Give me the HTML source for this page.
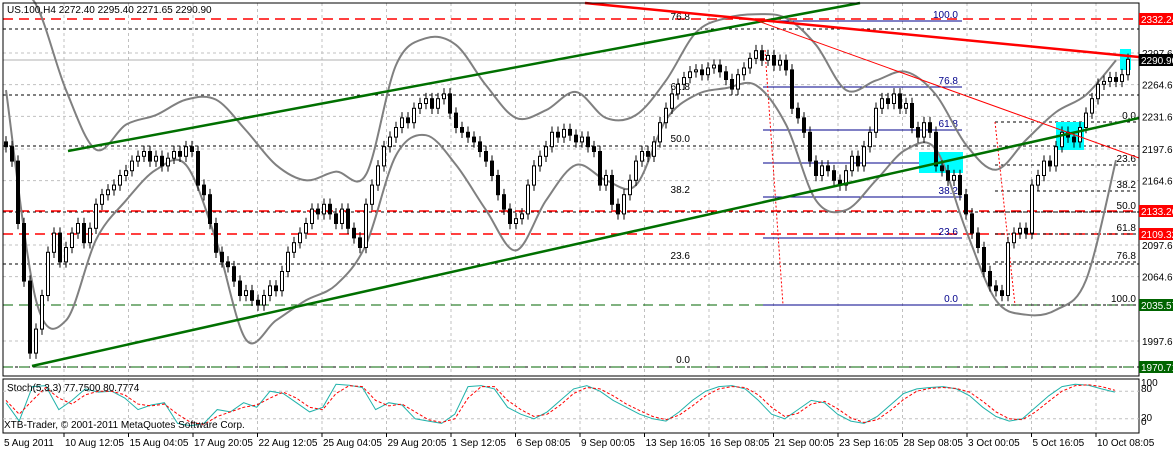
<!DOCTYPE html>
<html><head><meta charset="utf-8"><style>
body{margin:0;background:#fff;width:1173px;height:450px;overflow:hidden}
svg{display:block;font-family:"Liberation Sans",sans-serif}
</style></head><body>
<svg id="c" width="1173" height="450">
<rect x="0" y="0" width="1173" height="450" fill="#fff"/>
<g id="grid"></g>
<g id="levels"></g>
<g id="bands"></g>
<g id="candles"></g>
<g id="overlay"></g>
<g id="stoch"></g>
<g id="axes"></g>
</svg>
<script>
const closes=[2200,2185,2120,2060,1985,2010,2045,2090,2110,2080,2095,2110,2120,2100,2115,2140,2150,2155,2160,2170,2175,2185,2190,2195,2185,2190,2180,2188,2195,2190,2200,2195,2160,2150,2120,2090,2080,2075,2060,2045,2050,2040,2035,2045,2055,2050,2070,2090,2100,2110,2120,2135,2130,2140,2130,2120,2135,2115,2105,2095,2140,2160,2180,2200,2210,2220,2230,2225,2240,2245,2250,2240,2250,2255,2235,2220,2215,2210,2205,2195,2185,2170,2150,2135,2120,2125,2130,2160,2180,2190,2200,2215,2210,2218,2212,2205,2210,2200,2195,2160,2170,2140,2130,2150,2165,2185,2195,2190,2205,2225,2240,2255,2265,2272,2278,2280,2275,2282,2285,2278,2270,2260,2275,2282,2292,2300,2290,2295,2285,2290,2280,2240,2230,2215,2185,2170,2180,2175,2165,2160,2175,2190,2180,2200,2215,2240,2250,2245,2255,2240,2245,2220,2210,2225,2215,2180,2175,2165,2170,2150,2130,2110,2095,2070,2055,2050,2045,2100,2110,2115,2110,2160,2170,2185,2180,2200,2215,2210,2205,2220,2235,2250,2265,2268,2272,2268,2275,2291];
const upperBand=[2374,2348,2259,2197,2223,2233,2249,2249,2217,2181,2165,2174,2171,2285,2313,2306,2264,2230,2238,2257,2230,2233,2269,2319,2334,2338,2334,2306,2259,2269,2278,2254,2202,2176,2207,2236,2254,2290];
const lowerBand=[2259,2040,2019,2103,2144,2176,2181,2103,1999,2019,2040,2056,2098,2191,2212,2181,2134,2092,2144,2181,2165,2160,2228,2254,2261,2264,2223,2144,2134,2165,2197,2197,2113,2040,2025,2030,2061,2186];
const stochK=[55,15,90,92,40,60,85,78,80,65,40,50,55,10,5,10,40,35,55,45,80,75,55,35,45,95,93,88,40,55,50,20,15,10,30,90,92,85,45,30,20,35,60,85,92,80,60,45,30,20,15,35,60,80,90,92,85,60,30,20,40,60,55,30,15,10,25,50,75,85,88,90,85,70,45,25,15,20,45,70,90,95,93,85,78];
const stochD=[60,30,60,88,65,52,72,80,80,72,52,48,52,30,12,8,25,35,45,50,65,78,65,45,40,75,92,90,60,48,52,35,18,12,20,65,90,90,60,40,25,30,50,75,88,85,70,52,38,25,18,28,48,70,85,90,88,72,45,25,32,52,58,42,22,12,18,38,62,80,86,88,86,78,58,35,20,18,35,58,80,92,94,90,82];
const dateLabels=["10 Aug 12:05","15 Aug 04:05","17 Aug 20:05","22 Aug 12:05","25 Aug 04:05","29 Aug 20:05","1 Sep 12:05","6 Sep 08:05","9 Sep 00:05","13 Sep 16:05","16 Sep 08:05","21 Sep 00:05","23 Sep 16:05","28 Sep 08:05","3 Oct 00:05","5 Oct 16:05","10 Oct 08:05"];
const priceTicks=[2297.6,2264.6,2231.6,2197.6,2164.6,2097.6,2064.6,1997.6];

const NS="http://www.w3.org/2000/svg";
const X0=6,DX=6,PL=3,PR=1139,PT=3,PB=376;
const yP=p=>53+(2297.6-p)*0.96;
const xI=i=>X0+i*DX;
const yS=v=>428-v*0.46;
function mk(t,a,parent){const e=document.createElementNS(NS,t);for(const k in a)e.setAttribute(k,a[k]);document.getElementById(parent).appendChild(e);return e;}
function smooth(pts){let d='M'+pts[0][0]+','+pts[0][1];
 for(let i=0;i<pts.length-1;i++){const p0=pts[i-1]||pts[i],p1=pts[i],p2=pts[i+1],p3=pts[i+2]||p2;
  const c1x=p1[0]+(p2[0]-p0[0])/6,c1y=p1[1]+(p2[1]-p0[1])/6,c2x=p2[0]-(p3[0]-p1[0])/6,c2y=p2[1]-(p3[1]-p1[1])/6;
  d+=` C${c1x},${c1y} ${c2x},${c2y} ${p2[0]},${p2[1]}`;}return d;}

for(let k=0;k<18;k++){const gx=64+k*64.5;if(gx>PR)break;
 const g=mk('line',{x1:gx,y1:PT,x2:gx,y2:PB,stroke:'#c0c0c0','stroke-dasharray':'3,3'},'grid');
 
 const g2=mk('line',{x1:gx,y1:379,x2:gx,y2:433,stroke:'#c0c0c0','stroke-dasharray':'3,3'},'grid');
 }
for(const p of priceTicks){const g=mk('line',{x1:PL,y1:yP(p),x2:PR,y2:yP(p),stroke:'#c0c0c0','stroke-dasharray':'3,3'},'grid');
 }

const L=(x1,y1,x2,y2,c,w,d,name)=>{const e=mk('line',{x1,y1,x2,y2,stroke:c,'stroke-width':w,'stroke-dasharray':d||'none'},'levels');return e;};
L(PL,29,PR,29,'#000',1,'3,3','fib-level-76');L(PL,95,PR,95,'#000',1,'3,3','fib-level-61');L(PL,146,PR,146,'#000',1,'3,3','fib-level-50');
L(PL,212,PR,212,'#000',1,'3,3','fib-level-38');L(PL,264,PR,264,'#000',1,'3,3','fib-level-23');L(PL,367,PR,367,'#000',1,'3,3','fib-level-0');
L(PL,19,PR,19,'#f00',1.5,'10,6','resistance-2332');L(PL,211,PR,211,'#f00',1.5,'10,6','level-2133');L(PL,234,PR,234,'#f00',1.5,'10,6','level-2109');
L(PL,305,PR,305,'#006400',1,'10,6','level-2035');L(PL,367,PR,367,'#006400',1,'10,6','level-1970');
L(PL,60,PR,60,'#b0b0b0',1,'','bid-line');
[[21,'100.0'],[87,'76.8'],[130,'61.8'],[163,'50.0'],[197,'38.2'],[238,'23.6'],[305,'0.0']].forEach(([y,t])=>{
 L(763,y,962,y,'#00008b',1,'','fib2-line');
 const e=mk('text',{x:958,y:y-3,'font-size':10,fill:'#00008b','text-anchor':'end'},'levels');e.textContent=t;
 });
[[122,'0.0'],[165,'23.6'],[191,'38.2'],[212,'50.0'],[234,'61.8'],[262,'76.8'],[305,'100.0']].forEach(([y,t])=>{
 L(995,y,PR,y,'#000',1,'3,3','fib3-line');
 const e=mk('text',{x:1136,y:y-3,'font-size':10,fill:'#000','text-anchor':'end'},'levels');e.textContent=t;
 });
[[22,'76.8'],[92,'61.8'],[144,'50.0'],[195,'38.2'],[261,'23.6'],[365,'0.0']].forEach(([y,t])=>{
 const e=mk('text',{x:690,y:y-2,'font-size':10,fill:'#000','text-anchor':'end'},'levels');e.textContent=t;
 });
[[919,152,44,21],[1056,122,28,28],[1120,49,11,21]].forEach(([x,y,w,h])=>{const e=mk('rect',{x,y,width:w,height:h,fill:'#00ffff'},'levels');
 });
L(765,50,783,305,'#f00',1,'2,2','time-marker');L(995,122,1015,305,'#f00',1,'2,2','time-marker');

function bandPath(arr){return smooth(arr.map((p,k)=>[xI(k*5),yP(p)]));}
const ub=mk('path',{d:bandPath(upperBand),fill:'none',stroke:'#808080','stroke-width':2,'stroke-linejoin':'round'},'bands');

const lb=mk('path',{d:bandPath(lowerBand),fill:'none',stroke:'#808080','stroke-width':2,'stroke-linejoin':'round'},'bands');


closes.forEach((c,i)=>{const o=i?closes[i-1]:c+5;const x=xI(i);
 const hi=Math.max(o,c)+6,lo=Math.min(o,c)-6;
 const w=mk('line',{x1:x,y1:yP(hi),x2:x,y2:yP(lo),stroke:'#000'},'candles');
 
 const top=yP(Math.max(o,c)),h=Math.max(1,Math.abs(yP(o)-yP(c)));
 const b=mk('rect',{x:x-1.5,y:top,width:3,height:h,fill:c>=o?'#fff':'#000',stroke:'#000','stroke-width':1},'candles');
 });

const T=(x1,y1,x2,y2,c,w,name)=>{const e=mk('line',{x1,y1,x2,y2,stroke:c,'stroke-width':w},'overlay');};
T(68,151,860,3,'#007000',2.5,'channel-upper');T(32,366,PR,118,'#007000',2.5,'channel-lower');
T(585,3,PR,57,'#f00',2.5,'red-trendline');T(755,20,PR,158,'#f00',1,'red-thin-trendline');

const sp=mk('rect',{x:3,y:379,width:1136,height:54,fill:'none',stroke:'#000'},'stoch');
[80,20].forEach(v=>{const e=mk('line',{x1:3,y1:yS(v),x2:PR,y2:yS(v),stroke:'#c0c0c0','stroke-dasharray':'3,3'},'stoch');});
const sk=mk('path',{d:stochK.map((v,k)=>(k?'L':'M')+xI(k*2.2)+','+yS(v)).join(' '),fill:'none',stroke:'#20b2aa'},'stoch');
const sd=mk('path',{d:stochD.map((v,k)=>(k?'L':'M')+xI(k*2.2)+','+yS(v)).join(' '),fill:'none',stroke:'#f00','stroke-dasharray':'3,2'},'stoch');
let t=mk('text',{x:7,y:391,'font-size':10},'stoch');t.textContent='Stoch(5,3,3) 77.7500 80.7774';
t=mk('text',{x:4,y:428,'font-size':10},'stoch');t.textContent='XTB-Trader, © 2001-2011 MetaQuotes Software Corp.';
[['100',386],['80',392],['20',421],['0',425]].forEach(([s,y])=>{const e=mk('text',{x:1141,y,'font-size':10},'stoch');e.textContent=s;});

const fr=mk('rect',{x:3,y:3,width:1136,height:373,fill:'none',stroke:'#000'},'axes');
t=mk('text',{x:7,y:13,'font-size':10},'axes');t.textContent='US.100,H4  2272.40 2295.40 2271.65 2290.90';
priceTicks.forEach(p=>{const e=mk('text',{x:1142,y:yP(p)+4,'font-size':10},'axes');e.textContent=p.toFixed(2);});
[[2332.24,'#f00',19],[2290.90,'#000',60],[2133.26,'#f00',211],[2109.32,'#f00',234],[2035.57,'#006400',305],[1970.71,'#006400',367]].forEach(([p,c,y])=>{
 const r=mk('rect',{x:1139,y:y-6,width:34,height:12,fill:c},'axes');
 const e=mk('text',{x:1141,y:y+4,'font-size':10,fill:'#fff'},'axes');e.textContent=p.toFixed(2);});
t=mk('text',{x:4,y:446,'font-size':10},'axes');t.textContent='5 Aug 2011';
dateLabels.forEach((s,k)=>{const gx=64+k*64.5;const e=mk('text',{x:gx+1,y:446,'font-size':10},'axes');e.textContent=s;
 const tk=mk('line',{x1:gx,y1:433,x2:gx,y2:437,stroke:'#000'},'axes');});
</script>
</body></html>
